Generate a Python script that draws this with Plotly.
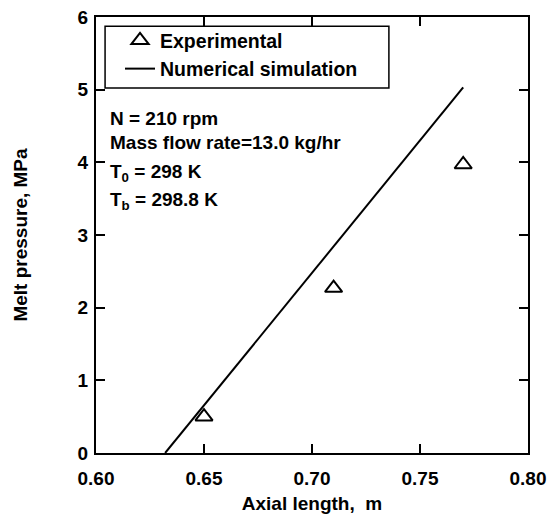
import plotly.graph_objects as go

# Data
exp_x = [0.65, 0.71, 0.77]
exp_y = [0.50, 2.27, 3.97]
sim_x = [0.632, 0.770]
sim_y = [0.0, 5.03]

FONT = "Liberation Sans"
FS = 19
fig = go.Figure()
fig.add_trace(go.Scatter(
    x=exp_x, y=exp_y, mode="markers", name="Experimental",
    marker=dict(symbol="triangle-up-open", size=15, color="black", line=dict(width=2, color="black")),
))
fig.add_trace(go.Scatter(
    x=sim_x, y=sim_y, mode="lines", name="Numerical simulation",
    line=dict(color="black", width=2),
))

axis_common = dict(
    showline=True, linecolor="black", linewidth=2, mirror="ticks",
    ticks="inside", ticklen=9, tickwidth=2, tickcolor="black",
    showgrid=False, zeroline=False, automargin=False,
    tickfont=dict(family=FONT, size=FS, color="black", weight="bold"),
)

fig.update_xaxes(range=[0.60, 0.80], tickvals=[0.60, 0.65, 0.70, 0.75, 0.80],
                 ticktext=["0.60", "0.65", "0.70", "0.75", "0.80"],
                 ticklabelstandoff=7,
                 title=dict(text="Axial length,\u00a0\u00a0m", standoff=20,
                            font=dict(family=FONT, size=FS, color="black", weight="bold")),
                 **axis_common)
fig.update_yaxes(range=[0, 6], tickvals=[0, 1, 2, 3, 4, 5, 6],
                 ticklabelstandoff=2,
                 title=dict(text="Melt pressure, MPa", standoff=45,
                            font=dict(family=FONT, size=FS, color="black", weight="bold")),
                 **axis_common)

# Legend box
fig.add_shape(type="rect", xref="paper", yref="paper", x0=0.021, x1=0.678, y0=0.837, y1=0.979,
              line=dict(color="black", width=1.5), fillcolor="white", layer="below")

fig.update_layout(
    width=555, height=514,
    margin=dict(l=96, r=27, t=17, b=61),
    plot_bgcolor="white", paper_bgcolor="white",
    showlegend=True,
    legend=dict(x=0.0556, y=0.9906, xanchor="left", yanchor="top",
                bgcolor="rgba(0,0,0,0)", borderwidth=0,
                font=dict(family=FONT, size=FS + 0.5, color="black", weight="bold"),
                itemwidth=30, tracegroupgap=0),
)

notes = [
    ("N = 210 rpm", 4.60),
    ("Mass flow rate=13.0 kg/hr", 4.27),
    ("T<sub>0</sub> = 298 K", 3.86),
    ("T<sub>b</sub> = 298.8 K", 3.47),
]
for txt, yv in notes:
    fig.add_annotation(x=0.6055, y=yv, xref="x", yref="y", text=txt, showarrow=False,
                       xanchor="left", yanchor="middle",
                       font=dict(family=FONT, size=FS, color="black", weight="bold"))

fig.write_html("out.html")
